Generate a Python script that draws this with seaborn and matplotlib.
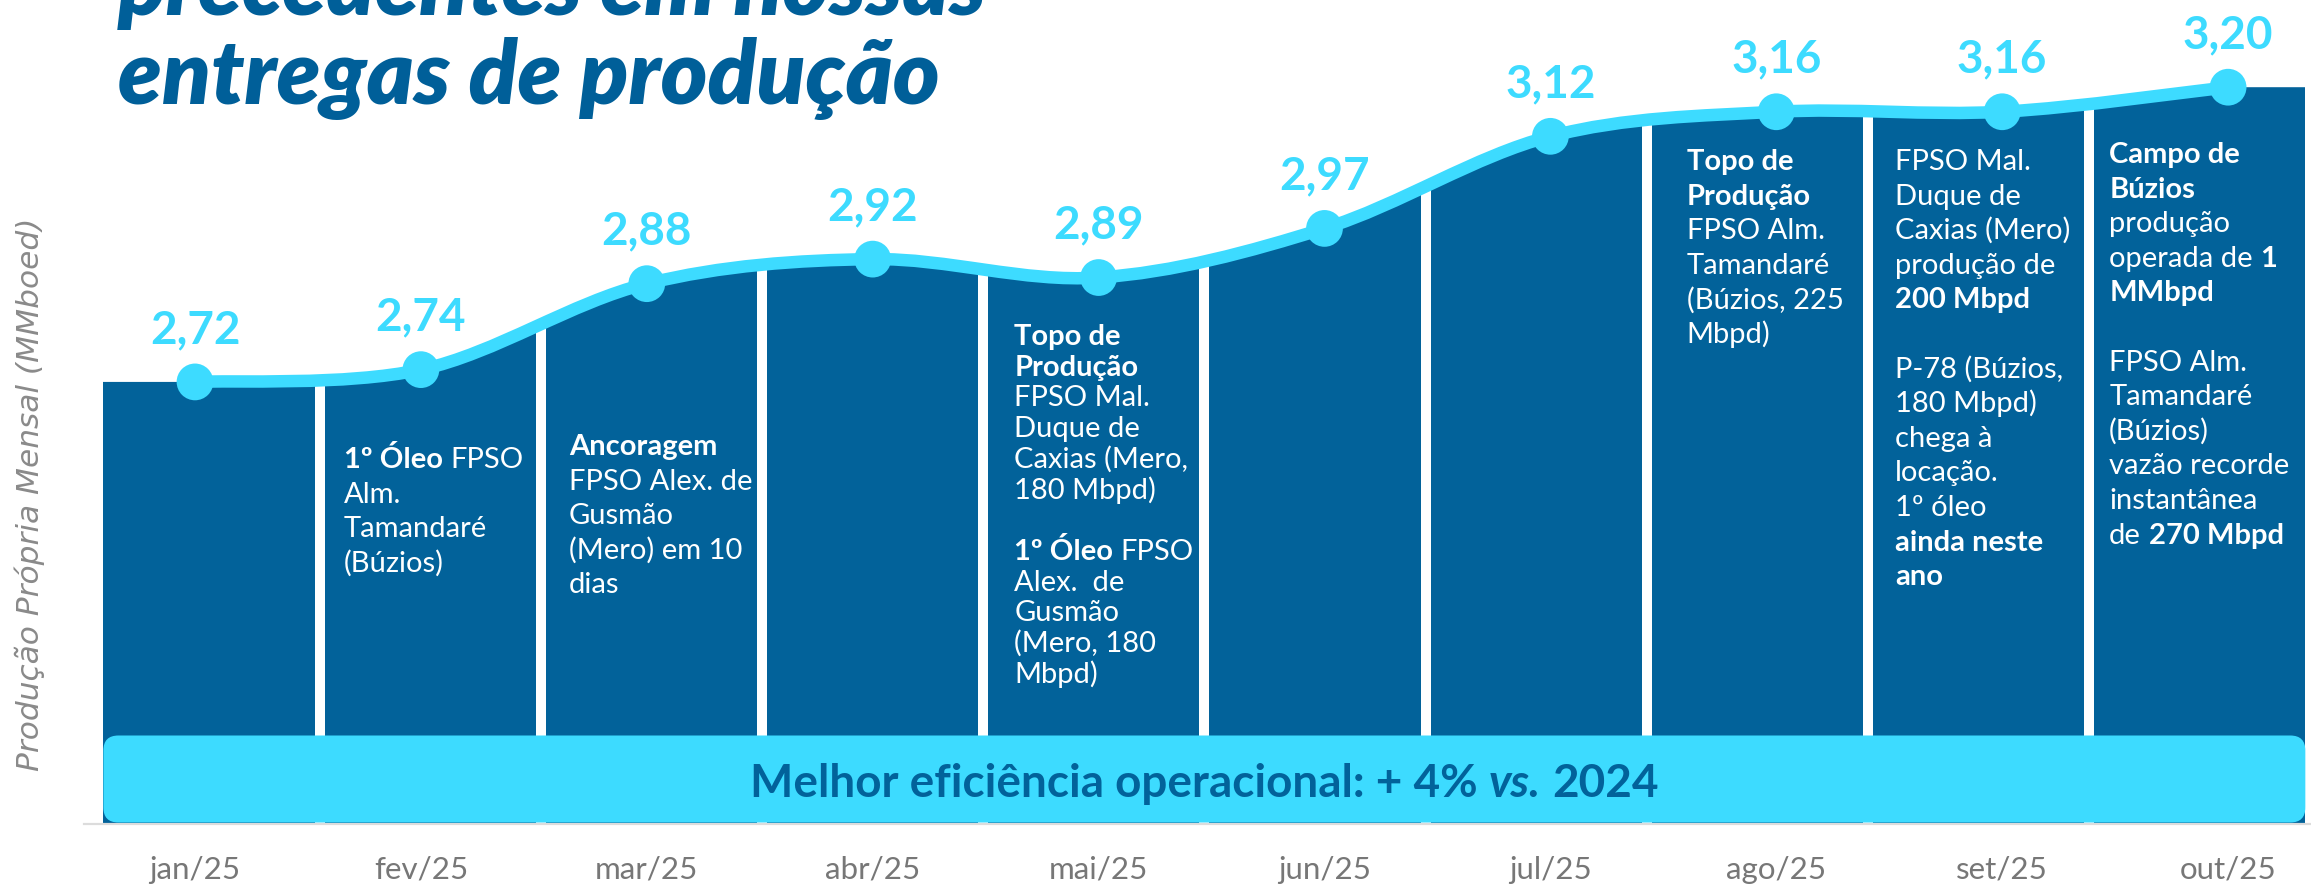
import re
import numpy as np
import matplotlib
matplotlib.use("Agg")
import matplotlib.pyplot as plt
import seaborn as sns
from matplotlib.path import Path
from matplotlib.patches import PathPatch, Rectangle, FancyBboxPatch
from matplotlib.transforms import IdentityTransform

# ---------------- data ----------------
months = ["jan/25", "fev/25", "mar/25", "abr/25", "mai/25",
          "jun/25", "jul/25", "ago/25", "set/25", "out/25"]
production = [2.72, 2.74, 2.88, 2.92, 2.89, 2.97, 3.12, 3.16, 3.16, 3.20]

annotations = {
    "fev/25": ["**1º Óleo** FPSO", "Alm.", "Tamandaré", "(Búzios)"],
    "mar/25": ["**Ancoragem**", "FPSO Alex. de", "Gusmão", "(Mero) em 10", "dias"],
    "mai/25": ["**Topo de**", "**Produção**", "FPSO Mal.", "Duque de", "Caxias (Mero,",
               "180 Mbpd)", "", "**1º Óleo** FPSO", "Alex.  de", "Gusmão",
               "(Mero, 180", "Mbpd)"],
    "ago/25": ["**Topo de**", "**Produção**", "FPSO Alm.", "Tamandaré",
               "(Búzios, 225", "Mbpd)"],
    "set/25": ["FPSO Mal.", "Duque de", "Caxias (Mero)", "produção de", "**200 Mbpd**",
               "", "P-78 (Búzios,", "180 Mbpd)", "chega à", "locação.", "1º óleo",
               "**ainda neste**", "**ano**"],
    "out/25": ["**Campo de**", "**Búzios**", "produção", "operada de **1**", "**MMbpd**",
               "", "FPSO Alm.", "Tamandaré", "(Búzios)", "vazão recorde",
               "instantânea", "de **270 Mbpd**"],
}
banner_parts = [("Melhor eficiência operacional: + 4% ", "normal"),
                ("vs.", "italic"),
                (" 2024", "normal")]
y_label = "Produção Própria Mensal (MMboed)"
title_lines = ["precedentes em nossas", "entregas de produção"]

# ---------------- style ----------------
DARK = "#02629a"
CYAN = "#3ddbff"
TITLE = "#005f99"
GREY = "#777777"
FONT = ["Lato", "DejaVu Sans"]

sns.set_theme(style="white")
plt.rcParams["font.family"] = FONT

W, H = 2311, 885
fig = plt.figure(figsize=(W / 100, H / 100), dpi=100)
rect = [84 / W, 1 - 824 / H, (W - 84) / W, 824 / H]
ax_cols = fig.add_axes(rect)
ax_cols.set_axis_off()
ax = fig.add_axes(rect)
ax.set_facecolor("none")

y0 = 2.0
ytop = y0 + 824 / 614
XL_LINE = (-0.4914, 9.367)
XL_COLS = (-0.565, 9.503)
for a in (ax, ax_cols):
    a.set_ylim(y0, ytop)
ax.set_xlim(*XL_LINE)
ax_cols.set_xlim(*XL_COLS)

x = np.arange(len(production), dtype=float)
y = np.array(production, dtype=float)

# smooth curve (Catmull-Rom as cubic Bezier) through the data points
P = np.column_stack([x, y])
Pe = np.vstack([P[0], P, P[-1]])
cverts, ccodes = [], []
for i in range(len(P) - 1):
    p0, p1, p2, p3 = Pe[i], Pe[i + 1], Pe[i + 2], Pe[i + 3]
    cverts += [p1 + (p2 - p0) / 6, p2 - (p3 - p1) / 6, p2]
    ccodes += [Path.CURVE4] * 3

line_path = Path([P[0]] + cverts, [Path.MOVETO] + ccodes)

# area under the curve, cut into month columns
xl, xr = XL_LINE
av = [(xl, y0), (xl, y[0]), tuple(P[0])] + [tuple(v) for v in cverts] + [(xr, y[-1]), (xr, y0), (xl, y0)]
ac = [Path.MOVETO, Path.LINETO, Path.LINETO] + ccodes + [Path.LINETO, Path.LINETO, Path.CLOSEPOLY]
area = PathPatch(Path(av, ac), facecolor=DARK, edgecolor="none", zorder=1)
ax.add_patch(area)
col_px = (rect[2] * W) / (XL_COLS[1] - XL_COLS[0])
hg = 5 / col_px
clip = Rectangle((-0.5 + hg, y0), len(months) - 2 * hg, ytop - y0,
                 transform=ax_cols.transData, facecolor="none", edgecolor="none")
area.set_clip_path(clip)
for k in range(len(months) - 1):
    ax.plot([k + 0.5, k + 0.5], [y0, ytop], transform=ax_cols.transData,
            color="white", lw=7.2, solid_capstyle="butt", zorder=2)

# banner box
box_h = (824 - 737) / 614
row_px = 614
asp = (1 / row_px) / (1 / col_px)
box = FancyBboxPatch((-0.5 + hg, y0 + 1.5 / 614), len(months) - 2 * hg, box_h,
                     boxstyle=f"round,pad=0,rounding_size={15 / col_px}",
                     mutation_aspect=asp, transform=ax_cols.transData,
                     facecolor=CYAN, edgecolor="none", zorder=3)
ax.add_patch(box)

# line + markers
ax.add_patch(PathPatch(line_path, fill=False, edgecolor=CYAN, lw=9,
                       capstyle="round", joinstyle="round", zorder=4))
sns.scatterplot(x=x, y=y, ax=ax, s=700, color=CYAN, edgecolor="none",
                zorder=5, legend=False)

for xi, yi in zip(x, y):
    ax.annotate(f"{yi:.2f}".replace(".", ","), (xi, yi), xytext=(0, 28),
                textcoords="offset points", ha="center", va="baseline",
                fontsize=33, fontweight="bold", color=CYAN, zorder=6)

# axes cosmetics
ax.set_xlim(*XL_LINE)
ax.set_ylim(y0, ytop)
ax.set_xticks(x)
ax.set_xticklabels(months, fontsize=22.5, color=GREY)
ax.tick_params(axis="x", length=0, pad=23)
ax.set_yticks([])
ax.set_xlabel("")
ax.set_ylabel("")
for s in ("left", "right", "top"):
    ax.spines[s].set_visible(False)
ax.spines["bottom"].set_color("#dcdcdc")
ax.spines["bottom"].set_linewidth(1.6)

# ---------------- rich text helpers ----------------
renderer = fig.canvas.get_renderer()
ID = IdentityTransform()


def text_width(s, **kw):
    t = fig.text(0, 0, s, transform=ID, **kw)
    w = t.get_window_extent(renderer).width
    t.remove()
    return w


def place_parts(xs, ys, parts, ha="left", **kw):
    """parts: list of (text, weight, style)."""
    sw = text_width("a a", **kw) - text_width("aa", **kw)
    items = []
    total = 0.0
    for s, weight, style in parts:
        lead = len(s) - len(s.lstrip(" "))
        trail = len(s) - len(s.rstrip(" "))
        core = s.strip(" ")
        w = text_width(core, fontweight=weight, fontstyle=style, **kw) if core else 0
        items.append((total + lead * sw, core, weight, style))
        total += lead * sw + w + trail * sw
    start = xs - total / 2 if ha == "center" else xs
    for off, core, weight, style in items:
        if core:
            fig.text(start + off, ys, core, transform=ID, va="baseline", ha="left",
                     fontweight=weight, fontstyle=style, **kw)


def parse_markup(line):
    parts = []
    for p in re.split(r"(\*\*.*?\*\*)", line):
        if not p:
            continue
        if p.startswith("**"):
            parts.append((p[2:-2], "bold", "normal"))
        else:
            parts.append((p, "normal", "normal"))
    return parts


# column annotations (layout: x offset inside column, first baseline, line step in px)
layout = {"fev/25": (19, 468, 34.6), "mar/25": (23, 455, 34.6), "mai/25": (26, 345, 30.7),
          "ago/25": (35, 170, 34.6), "set/25": (22, 170, 34.6), "out/25": (15, 163, 34.6)}
for m, lines in annotations.items():
    k = months.index(m)
    dx, base, step = layout[m]
    left_disp = ax_cols.transData.transform((k - 0.5 + hg, y0))[0]
    for j, ln in enumerate(lines):
        if ln:
            place_parts(left_disp + dx, H - (base + j * step), parse_markup(ln),
                        fontsize=21, color="white", zorder=6)

# banner text
bx, by = ax_cols.transData.transform((4.5, y0 + 27 / 614))
place_parts(bx, by, [(t, "bold", st) for t, st in banner_parts], ha="center",
            fontsize=33, color=DARK, zorder=7)

# title (partly cut off at the top, as in the source slide) and y label
fig.text(118 / W, 1 - 15 / H, title_lines[0], fontsize=64, fontweight="heavy",
         fontstyle="italic", color=TITLE, va="baseline", ha="left")
fig.text(118 / W, 1 - 104 / H, title_lines[1], fontsize=64, fontweight="heavy",
         fontstyle="italic", color=TITLE, va="baseline", ha="left")
fig.text(30 / W, 1 - 494 / H, y_label, rotation=90, ha="center", va="center",
         fontsize=22.5, fontstyle="italic", color="#8a8a8a", family=["DejaVu Sans"])

fig.savefig("out.png", dpi=100)
